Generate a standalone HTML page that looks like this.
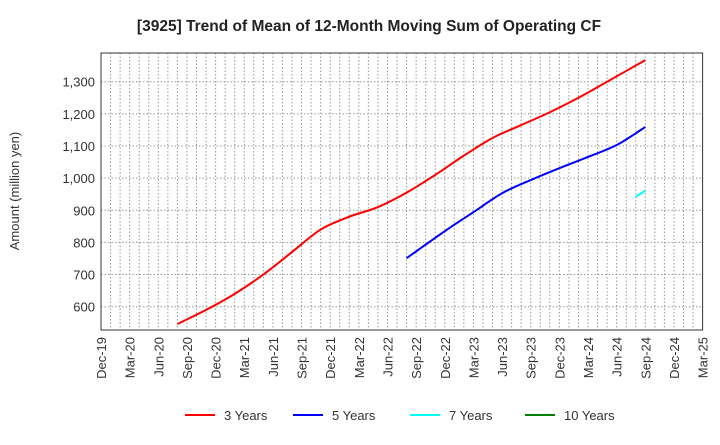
<!DOCTYPE html>
<html><head><meta charset="utf-8"><style>
body{margin:0;background:#fff;font-family:"Liberation Sans",Arial,sans-serif;}
svg text{font-family:"Liberation Sans",Arial,sans-serif;}
</style></head><body>
<svg id="chart" width="720" height="440" xmlns="http://www.w3.org/2000/svg">
<text x="369" y="31" text-anchor="middle" font-size="15.5" font-weight="bold" fill="#222">[3925]  Trend of Mean of 12-Month Moving Sum of Operating CF</text>
<text transform="translate(19,191) rotate(-90)" text-anchor="middle" font-size="13" fill="#333">Amount (million yen)</text>
<g id="grid"></g><g id="axes"></g><g id="series"></g><g id="legend"></g>
</svg>
<script>
const xLabels=["Dec-19","Mar-20","Jun-20","Sep-20","Dec-20","Mar-21","Jun-21","Sep-21","Dec-21","Mar-22","Jun-22","Sep-22","Dec-22","Mar-23","Jun-23","Sep-23","Dec-23","Mar-24","Jun-24","Sep-24","Dec-24","Mar-25"];
const yTicks=[600,700,800,900,1000,1100,1200,1300];
const months3=[8,11,14,17,20,23,26,29,32,35,38,41,44,47,50,53,57];
const values3=[546,590,640,700,770,840,880,910,955,1010,1070,1125,1165,1205,1250,1300,1367];
const months5=[32,36,39,42,45,48,51,54,57];
const values5=[751,835,894,953,994,1031,1066,1103,1159];
const months7=[56,57];
const values7=[942,961];
const months10=[];
const values10=[];
const seriesNames=["3 Years","5 Years","7 Years","10 Years"];
const seriesColors=["#ff0000","#0000ff","#00ffff","#008000"];

const L=101,R=702.6,T=53,B=330;
const xs=m=>L+(R-L)*m/63;
const ys=v=>81.7+(1300-v)*(306.7-81.7)/700;
const NS="http://www.w3.org/2000/svg";
function mk(tag,attrs,parent){const e=document.createElementNS(NS,tag);for(const k in attrs)e.setAttribute(k,attrs[k]);parent.appendChild(e);return e;}
const grid=document.getElementById('grid'),axes=document.getElementById('axes'),ser=document.getElementById('series'),leg=document.getElementById('legend');
for(let m=1;m<63;m++){
  const g=mk('line',{x1:xs(m),x2:xs(m),y1:T,y2:B,stroke:'#999','stroke-width':1,'stroke-dasharray':'1.5,2'},grid);
  
  
}
yTicks.forEach(v=>{
  const g=mk('line',{x1:L,x2:R,y1:ys(v),y2:ys(v),stroke:'#999','stroke-width':1,'stroke-dasharray':'1.5,2'},grid);
  
  
  const t=mk('text',{x:L-6,y:ys(v)+5,'text-anchor':'end','font-size':13,fill:'#333'},axes);
  t.textContent=v.toLocaleString('en-US');
  
  
});
xLabels.forEach((s,i)=>{
  const x=xs(i*3);
  const t=mk('text',{transform:`translate(${x+5},337) rotate(-90)`,'text-anchor':'end','font-size':13,fill:'#333'},axes);
  t.textContent=s;
  
  
});
const frame=mk('rect',{x:L,y:T,width:R-L,height:B-T,fill:'none',stroke:'#333','stroke-width':1},axes);


function smooth(pts){
  if(pts.length<3)return 'M'+pts.map(p=>p.join(',')).join(' L');
  let d='M'+pts[0].join(',');
  for(let i=0;i<pts.length-1;i++){
    const p0=pts[i-1]||pts[i],p1=pts[i],p2=pts[i+1],p3=pts[i+2]||p2;
    const c1=[p1[0]+(p2[0]-p0[0])/6,p1[1]+(p2[1]-p0[1])/6];
    const c2=[p2[0]-(p3[0]-p1[0])/6,p2[1]-(p3[1]-p1[1])/6];
    d+=` C${c1.join(',')} ${c2.join(',')} ${p2.join(',')}`;
  }
  return d;
}
const all=[[months3,values3],[months5,values5],[months7,values7],[months10,values10]];
all.forEach(([ms,vs],i)=>{
  if(!ms.length)return;
  const pts=ms.map((m,j)=>[xs(m),ys(vs[j])]);
  const p=mk('path',{d:smooth(pts),fill:'none',stroke:seriesColors[i],'stroke-width':2,'stroke-linejoin':'round'},ser);
  
  
});
const lx=[185,293,410,525];
seriesNames.forEach((n,i)=>{
  const g=mk('g',{},leg);
  
  
  mk('line',{x1:lx[i],x2:lx[i]+30,y1:415,y2:415,stroke:seriesColors[i],'stroke-width':2},g);
  const t=mk('text',{x:lx[i]+39,y:420,'font-size':13,fill:'#333'},g);
  t.textContent=n;
});
</script>
</body></html>
